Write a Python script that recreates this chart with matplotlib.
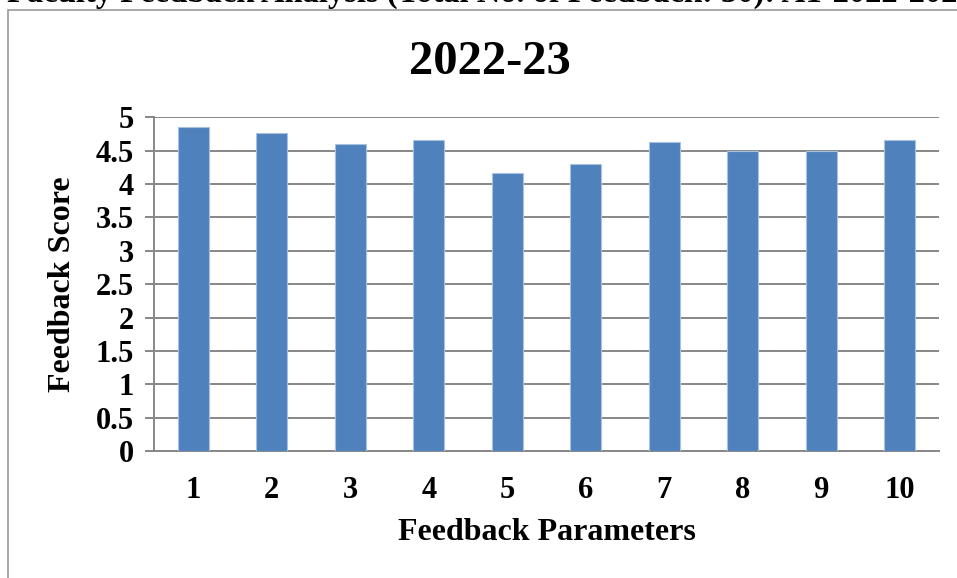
import matplotlib
matplotlib.use("Agg")
import matplotlib.pyplot as plt
from matplotlib.patches import Rectangle

categories = ["1", "2", "3", "4", "5", "6", "7", "8", "9", "10"]
scores = [4.86, 4.76, 4.60, 4.66, 4.16, 4.30, 4.63, 4.50, 4.50, 4.66]
yticks = [0, 0.5, 1, 1.5, 2, 2.5, 3, 3.5, 4, 4.5, 5]
ytick_labels = ["0", "0.5", "1", "1.5", "2", "2.5", "3", "3.5", "4", "4.5", "5"]

plt.rcParams['font.family'] = ['Liberation Serif', 'DejaVu Serif']
plt.rcParams['font.weight'] = 'bold'

W, H = 957, 578
fig = plt.figure(figsize=(W / 100, H / 100), dpi=100)

# outer border (right and bottom edges run off the picture)
fig.patches.append(Rectangle((8 / W, -0.2), 1.2, 1.2 - 10 / H, transform=fig.transFigure,
                             fill=False, edgecolor='#9a9a9a', linewidth=1.2))
# cut-off heading text at top
fig.text(7 / W, 1 - 1.5 / H, "Faculty Feedback Analysis (Total No. of Feedback: 30): AY 2022-2023",
         fontsize=23.5, fontweight='bold', ha='left', va='baseline')

ax = fig.add_axes([154 / W, 1 - 451 / H, (939 - 154) / W, (451 - 117.3) / H])
x = list(range(len(categories)))
ax.bar(x, scores, width=0.4, color='#4F81BD', edgecolor='#a9c1e0', linewidth=0.8, zorder=3)
ax.set_xlim(-0.5, len(categories) - 0.5)
ax.set_ylim(0, 5)
ax.set_yticks(yticks)
ax.set_yticklabels(ytick_labels)
ax.set_xticks(x)
ax.set_xticklabels(categories)

ax.grid(axis='y', color='#878787', linewidth=1.4, zorder=0)
ax.set_axisbelow(True)
for s in ['top', 'right']:
    ax.spines[s].set_visible(False)
for s in ['left', 'bottom']:
    ax.spines[s].set_color('#878787')
    ax.spines[s].set_linewidth(1.4)

ax.tick_params(axis='y', length=6.5, width=1.4, color='#878787', pad=8, labelsize=22)
ax.tick_params(axis='x', length=0, pad=18, labelsize=22)
for lab in ax.get_xticklabels() + ax.get_yticklabels():
    lab.set_fontweight('bold')

fig.text(490 / W, 1 - 62 / H, "2022-23", fontsize=35, fontweight='bold', ha='center', va='center')
fig.text(547 / W, 1 - 533 / H, "Feedback Parameters", fontsize=23, fontweight='bold', ha='center', va='center')
fig.text(62 / W, 1 - 284 / H, "Feedback Score", fontsize=23, fontweight='bold', ha='center', va='center',
         rotation=90)

fig.savefig("out.png", dpi=100)
